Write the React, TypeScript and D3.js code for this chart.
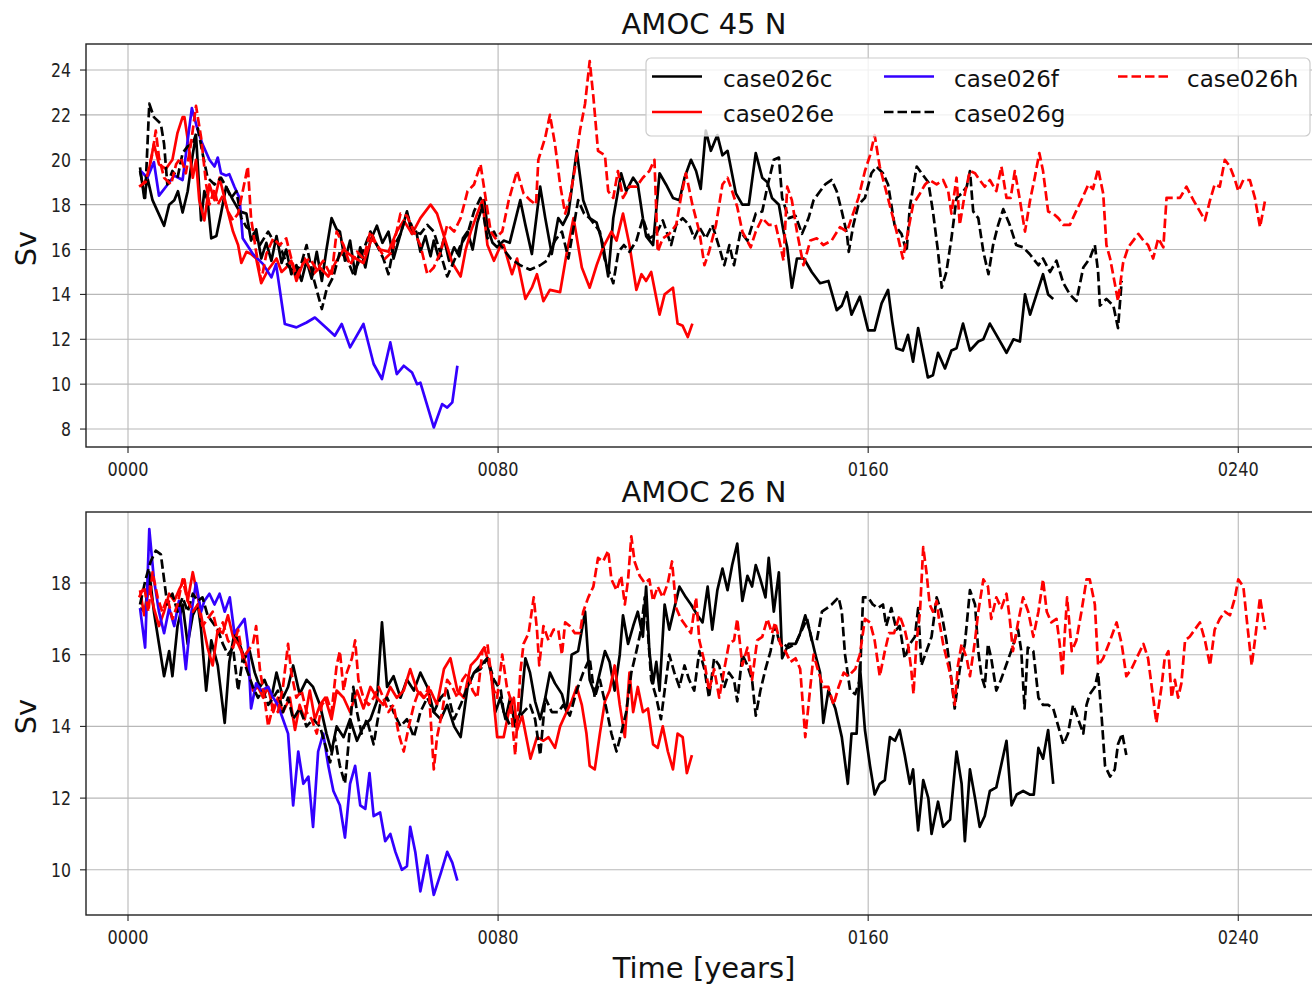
import React from 'react';
import * as d3 from 'd3';

type P = [number, number];

// ---------- axis / label data ----------
const yearTicks = [0, 80, 160, 240];
const yearTickLabels = ['0000', '0080', '0160', '0240'];
const topYTicks = [8, 10, 12, 14, 16, 18, 20, 22, 24];
const botYTicks = [10, 12, 14, 16, 18];
const seriesNames = ['case026c', 'case026e', 'case026f', 'case026g', 'case026h'];
const panelTitles = ['AMOC 45 N', 'AMOC 26 N'];
const xLabel = 'Time [years]';
const yLabel = 'Sv';

// ---------- AMOC 45 N ----------
const c45: P[] = [[2.6,19.66],[3.5,18.3],[4.2,19.2],[5.3,18.2],[6.4,17.7],[7.8,17.06],[8.9,18.0],[10,18.2],[10.8,18.6],[11.8,17.65],[12.9,18.6],[14,20.25],[14.7,21.1],[15.8,17.3],[16.5,18.6],[17.2,18.2],[18,16.5],[19.1,16.6],[20.1,17.6],[21.2,18.8],[22.7,18.2],[24.1,17.7],[25.6,17.6],[26.6,16.4],[27.7,16.9],[28.8,15.6],[29.9,16.3],[31,15.5],[32.1,16.6],[33.2,15.4],[34.2,16.0],[35.3,14.9],[36.4,15.3],[37.5,14.6],[38.6,15.5],[39.7,14.7],[40.8,15.9],[41.9,14.6],[42.9,16.0],[44,17.4],[45.1,16.9],[45.8,16.8],[46.9,15.5],[48,16.4],[49.1,14.9],[50.2,16.1],[51.3,15.2],[52.4,16.4],[53.8,17.06],[55,16.3],[56.3,16.8],[57.4,15.6],[58.5,16.4],[60.3,17.7],[61.4,16.7],[62.3,16.8],[63.2,15.9],[64.3,16.6],[65.4,15.7],[66.1,16.4],[67.2,15.6],[68.3,16.5],[69.4,15.5],[70.5,16.1],[71.6,15.7],[72.4,16.5],[73.4,16.8],[74.5,16.0],[75.5,17.2],[77,18.2],[77.7,17.0],[78.8,16.3],[79.8,16.1],[81.2,16.4],[82.5,16.3],[84.8,18.2],[85.9,17.1],[87.3,15.8],[89.1,18.8],[90.2,17.4],[91.6,15.8],[93,17.4],[94,17.1],[95.2,17.6],[97,20.4],[98.4,18.2],[99.8,17.4],[101.3,17.2],[102.7,16.2],[103.8,14.8],[104.9,17.4],[106.6,19.4],[107.7,18.6],[109.2,19.2],[110.2,18.9],[111.3,17.4],[112,16.6],[113.5,16.2],[114.9,19.4],[116.3,18.9],[117.8,18.3],[119.2,18.2],[120.3,19.2],[121.7,20.0],[122.8,19.5],[123.8,18.7],[124.9,21.3],[126,20.4],[127.4,21.1],[128.5,20.2],[129.6,20.4],[131.4,18.5],[132.8,18.0],[134.2,18.0],[135.7,20.3],[137.1,19.2],[138.2,19.0],[139.2,18.3],[140.7,18.0],[141.7,16.8],[142.5,16.1],[143.5,14.3],[144.6,15.6],[146.1,15.6],[147.8,15.0],[149.6,14.5],[151.4,14.6],[153.2,13.3],[154.3,13.5],[155.4,14.1],[156.4,13.1],[158.2,13.9],[160,12.4],[161.4,12.4],[162.9,13.6],[164.3,14.2],[165.2,12.8],[166.1,11.6],[167.5,11.5],[168.6,12.2],[169.7,11.0],[170.8,12.5],[172.9,10.3],[174,10.4],[175.1,11.4],[176.6,10.7],[178,11.5],[179.1,11.6],[180.5,12.7],[182,11.5],[183.8,11.9],[184.9,12.0],[186.3,12.7],[187.7,12.2],[189.9,11.4],[191.4,12.0],[192.8,11.9],[193.9,14.0],[195,13.1],[196.4,14.0],[197.8,14.9],[198.9,14.0],[200,13.8]];

const e45: P[] = [[2.75,18.8],[4.2,19.2],[5.6,20.7],[6.7,19.8],[8.2,19.6],[9.6,20.0],[10.7,21.2],[11.8,21.9],[12.2,21.9],[13.2,20.5],[14,19.2],[14.7,20.0],[15.4,18.2],[16.5,17.3],[17.6,18.9],[18.7,18.2],[19.8,19.2],[21.2,18.0],[22.7,16.8],[23.8,16.2],[24.5,15.4],[25.6,15.9],[26.6,15.8],[27.7,15.6],[28.8,14.5],[30.3,15.1],[32.1,15.6],[33.2,15.0],[34.2,15.2],[35.3,15.5],[36.4,14.6],[38.2,15.6],[40,14.9],[41.5,15.2],[43.3,14.8],[44.8,15.4],[46.6,16.0],[48.4,15.7],[50.9,15.4],[52.7,16.5],[54.5,16.0],[56.3,15.9],[58.1,16.8],[59.6,17.3],[61.4,16.7],[63.2,17.4],[65.4,18.0],[66.8,17.6],[68.6,16.4],[70.1,15.4],[71.9,14.8],[73,16.0],[74.1,16.8],[75.5,17.6],[76.6,18.2],[77.7,16.2],[79.1,15.5],[80.6,16.2],[81.2,16.2],[83,14.9],[84.1,15.6],[85.9,13.8],[87.3,14.3],[88.4,14.9],[89.8,13.7],[91.2,14.2],[93.4,14.1],[94.8,15.8],[96.3,17.4],[98.1,15.2],[99.8,14.3],[101.3,15.3],[102.7,16.1],[104.5,16.8],[105.6,16.4],[107,17.6],[108.4,16.2],[109.9,14.2],[111,14.9],[112,14.6],[113.1,15.0],[114.9,13.1],[116,14.0],[117.8,14.3],[118.8,12.7],[119.9,12.6],[121,12.1],[122,12.7]];

const f45: P[] = [[2.75,19.5],[4.2,19.2],[5.6,19.9],[6.7,18.4],[8.2,18.8],[10,19.3],[11.8,19.1],[13.8,22.3],[15.1,21.3],[16.1,20.7],[17.6,20.0],[18.7,19.7],[19.4,20.1],[20.1,19.4],[21.2,19.3],[21.9,19.36],[23,18.8],[24.1,18.3],[24.8,16.5],[27,15.8],[29.2,15.35],[31,14.76],[32,15.35],[33.9,12.68],[36.4,12.53],[38.6,12.75],[40.4,12.97],[42.9,12.5],[44.7,12.16],[46.2,12.68],[48,11.64],[50.9,12.68],[53.1,10.9],[54.9,10.23],[56.7,11.86],[58.1,10.45],[59.6,10.82],[61.4,10.52],[62.5,10.0],[63.2,10.07],[66.1,8.07],[67.9,9.11],[69,8.96],[70.1,9.19],[71.2,10.82]];

const g45: P[] = [[2.6,19.5],[3.7,18.3],[4.6,22.5],[5.6,21.9],[7.1,21.6],[7.8,20.7],[8.5,18.9],[9.6,19.5],[10.7,19.2],[11.8,20.3],[12.9,20.6],[14,20.7],[15.1,21.4],[16.1,20.3],[17.2,19.2],[18.7,18.9],[20.1,19.2],[21.2,18.8],[22.3,18.3],[23.4,18.6],[24.5,17.4],[25.6,17.0],[27,16.8],[28.5,16.2],[30.3,16.8],[31.4,16.4],[32.8,16.2],[34.2,15.4],[36.1,14.9],[37.5,15.4],[38.6,16.2],[40,14.8],[41.9,13.35],[42.9,14.2],[44.4,14.8],[45.8,15.9],[47.3,15.6],[48.7,14.9],[50.2,15.6],[52.4,16.8],[53.8,16.2],[55.2,15.6],[56.3,14.9],[57.4,16.1],[58.9,16.7],[60.3,17.6],[61.8,16.8],[63.2,16.7],[64.7,17.1],[66.1,16.8],[67.6,15.8],[69,14.8],[70.5,15.5],[71.9,16.2],[73.4,16.7],[74.8,17.7],[76.2,18.3],[77.7,16.5],[79.1,16.8],[80.5,16.2],[82.7,15.6],[84.8,15.3],[86.9,15.1],[89.1,15.3],[90.5,15.5],[92.3,16.4],[93.8,16.8],[95.2,15.6],[97.3,18.2],[98.6,17.6],[99.8,17.4],[102,16.8],[103,15.6],[104.9,14.5],[106,15.9],[107.2,16.2],[108.4,15.9],[109.9,16.4],[111.3,17.4],[112.7,16.5],[114.2,16.7],[115.6,17.3],[117.4,16.2],[118.5,17.1],[119.9,17.4],[121.3,17.1],[122.4,16.5],[123.5,17.0],[124.9,16.5],[126.3,17.1],[127.8,16.1],[128.9,15.3],[130,16.2],[131,15.3],[132.4,16.8],[133.9,16.4],[135.7,17.6],[137.1,17.7],[138.2,18.8],[139.6,20.0],[140.7,20.1],[141.4,18.3],[142.8,17.4],[144.3,17.5],[145.7,16.7],[147.1,17.4],[148.2,18.2],[149.6,18.6],[150.7,18.9],[152.1,19.1],[153.2,18.6],[154.3,17.7],[155.4,16.7],[155.8,15.9],[156.8,17.1],[157.9,18.0],[159.3,18.3],[160.7,19.4],[161.8,19.7],[163.2,19.4],[164.3,18.9],[165.7,17.1],[167.2,16.7],[168.3,15.9],[169,17.9],[170.5,19.7],[171.9,19.3],[173,19.0],[174,17.7],[175.1,15.9],[175.9,14.3],[176.9,15.0],[178,16.5],[179.1,18.3],[180.2,18.5],[181.3,18.8],[182,19.5],[182.7,17.7],[183.8,17.4],[184.9,15.9],[186,14.9],[187,16.2],[188.1,17.1],[189.2,17.8],[190.6,17.1],[192,16.2],[193.5,16.1],[194.9,15.8],[196.8,15.3],[197.8,15.6],[199.3,15.0],[200.7,15.5],[202.2,14.5],[203.6,14.0],[205,13.7],[206.5,15.2],[207.9,15.6],[209,16.2],[209.7,15.0],[210.1,13.5],[211.5,13.8],[213,13.5],[214,12.5],[214.8,14.6]];

const h45: P[] = [[2.4,18.8],[3.8,19.0],[5.3,20.3],[6,21.3],[6.7,20.1],[7.8,19.2],[9.3,18.9],[10.4,19.8],[11.4,20.1],[12.5,19.4],[13.6,20.7],[14.7,22.4],[15.8,21.0],[16.9,18.9],[17.6,18.0],[18.7,18.7],[19.4,18.0],[20.5,18.4],[21.6,17.7],[22.7,17.3],[23.8,17.6],[24.8,18.6],[25.9,19.7],[26.6,17.4],[27.7,15.9],[28.8,14.6],[29.9,15.8],[31.4,16.5],[32.8,16.2],[34.2,16.5],[35.3,15.6],[36.4,14.8],[37.9,15.4],[39.3,15.6],[40.8,15.1],[42.2,15.5],[44,14.8],[45.1,16.8],[46.6,16.2],[48,15.3],[49.5,15.9],[50.9,15.6],[52.4,16.8],[53.8,16.2],[55.6,15.6],[57.1,15.9],[58.9,17.6],[60.3,17.5],[61.8,16.8],[63.2,16.2],[64.7,14.9],[66.1,15.2],[67.6,15.9],[69,17.1],[70.5,16.8],[71.9,17.4],[73.4,18.6],[74.8,18.9],[76.2,19.8],[77.3,18.3],[78.4,16.8],[79.4,16.5],[80.9,16.8],[82.3,18.2],[84.1,19.5],[85.5,18.5],[86.9,18.2],[88.2,18.0],[88.7,20.0],[90.2,21.0],[91.2,22.0],[92.3,20.7],[93.4,18.9],[94.5,17.6],[95.5,18.3],[96.6,19.6],[97.7,21.3],[98.8,22.5],[99.8,24.4],[100.6,22.8],[101.6,20.4],[103.1,20.2],[103.8,18.6],[104.9,18.3],[105.9,19.5],[107,18.3],[108.4,18.8],[109.9,18.8],[111.3,19.2],[112.7,19.5],[113.8,20.0],[114.5,15.9],[115.6,16.5],[117,16.7],[118.5,17.1],[119.5,18.3],[120.6,19.4],[122,18.0],[123.5,16.8],[124.6,15.3],[125.6,15.9],[127.1,17.1],[128.5,18.9],[129.6,19.2],[130.6,18.6],[131.7,17.9],[132.8,16.8],[134.6,16.1],[135.7,16.8],[137.1,17.4],[138.5,17.1],[140,17.1],[141,16.2],[141.7,15.5],[142.5,18.8],[143.5,18.2],[144.6,16.8],[146,15.3],[147.5,16.4],[148.9,16.5],[150.3,16.2],[152.1,16.4],[153.9,17.0],[155.4,16.8],[156.4,17.4],[157.9,18.3],[159.3,19.5],[160.4,20.2],[161.4,21.1],[162.5,19.7],[164,18.5],[165.4,17.4],[166.5,16.5],[167.5,15.6],[168.6,16.8],[169.7,18.0],[171.2,18.5],[172.3,18.9],[173.3,19.1],[174.8,18.9],[176.2,19.1],[177.3,18.6],[178,17.6],[179.1,19.2],[179.8,17.1],[180.9,18.5],[182,19.5],[183.1,19.4],[184.1,19.1],[185.2,18.8],[186.3,19.1],[187.7,18.6],[188.8,19.7],[189.9,18.3],[190.8,18.3],[191.7,19.5],[192.8,18.2],[193.9,16.8],[195,18.2],[196,19.2],[197,20.3],[197.8,19.5],[198.9,17.7],[200,17.6],[201.1,17.4],[202.2,17.1],[203.6,17.1],[204.7,17.6],[206.1,18.2],[207.6,18.9],[208.6,18.7],[209.7,19.6],[210.8,18.5],[211.5,16.2],[212.3,15.6],[213.3,14.5],[214,13.7],[215.1,15.4],[216.2,16.1],[217.3,16.4],[218.4,16.7],[219.5,16.4],[220.5,16.2],[221.6,15.6],[222.7,16.5],[223.8,16.1],[224.5,18.3],[225.9,18.3],[227.4,18.3],[228.8,18.8],[230.3,18.2],[231.7,17.7],[232.8,17.3],[233.9,18.2],[234.9,18.9],[236,18.8],[237.1,20.0],[238.2,19.7],[239.3,19.1],[240,18.6],[241.1,19.1],[242.5,19.1],[243.6,18.3],[244.7,17.0],[245.8,18.2]];

// ---------- AMOC 26 N ----------
const c26: P[] = [[2.6,17.3],[3.7,17.2],[4.6,18.3],[5.6,17.2],[6.7,16.3],[7.8,15.4],[8.9,16.1],[9.6,15.4],[10.7,16.8],[11.8,17.4],[12.9,16.3],[14,17.1],[15.1,17.4],[15.8,16.7],[16.9,15.0],[18,16.4],[19.4,15.7],[20.9,14.1],[21.9,15.8],[23,16.6],[24.1,16.3],[25.2,15.9],[26.3,16.1],[27.4,15.5],[28.5,15.1],[29.5,15.3],[31,14.8],[32.1,15.5],[33.5,14.8],[34.6,15.1],[35.7,15.7],[37.1,14.9],[38.6,15.3],[40,15.1],[41.5,14.6],[42.9,13.8],[44,13.3],[45.1,14.0],[46.6,13.7],[48,14.2],[49.5,13.6],[50.9,14.0],[52.4,14.2],[53.8,14.7],[54.9,16.9],[56,15.1],[57.4,15.4],[58.9,14.8],[60.3,15.3],[61.8,15.0],[63.2,15.5],[64.7,15.1],[66.1,14.4],[67.6,14.2],[69,14.6],[70.5,14.0],[71.9,13.7],[73.4,15.1],[74.8,15.5],[76.2,15.7],[77.7,15.9],[78.8,15.3],[79.4,14.4],[80.5,14.8],[81.6,14.2],[82.6,14.8],[83.7,14.0],[84.8,14.4],[85.9,15.9],[86.9,15.5],[88,14.7],[89.1,14.2],[90.2,14.8],[91.2,15.5],[92.3,15.2],[93.8,14.9],[94.8,14.4],[95.9,16.0],[97.3,16.1],[98.8,17.2],[99.8,15.3],[100.9,14.9],[102,15.5],[103.1,16.1],[104.1,15.8],[105.2,15.0],[106.3,16.0],[107,17.1],[108.1,16.3],[109.2,16.8],[110.2,17.2],[111.3,16.5],[112,17.9],[112.7,16.1],[113.5,15.2],[114.2,15.8],[114.9,15.0],[116,17.4],[117,16.7],[118.1,17.3],[119.2,17.9],[120.6,17.6],[121.7,17.4],[123.1,17.1],[124.2,16.9],[125.3,17.9],[126.3,16.7],[127.4,17.8],[128.5,18.4],[129.6,17.8],[130.6,18.5],[131.7,19.1],[132.8,17.5],[133.9,18.2],[134.9,17.9],[135.7,18.5],[136.7,18.1],[137.8,17.6],[138.5,18.7],[139.6,17.2],[140.7,18.3],[141.4,15.9],[142.8,16.3],[144.3,16.3],[145.3,16.6],[146.4,17.1],[147.5,16.6],[148.6,16.0],[149.6,15.5],[150.3,14.1],[151.4,15.0],[152.9,14.5],[154.3,13.7],[155.6,12.4],[156.4,13.8],[157.5,13.8],[158.2,15.7],[159.3,13.9],[160.4,12.9],[161.4,12.1],[162.5,12.4],[163.6,12.5],[164.7,13.7],[165.8,13.6],[166.8,13.9],[167.9,13.2],[169,12.4],[169.7,12.8],[170.8,11.1],[171.9,12.5],[173,12.0],[173.7,11.0],[175.1,11.9],[176.2,11.2],[177.7,11.4],[179.1,13.3],[180.2,12.4],[180.9,10.8],[182,12.8],[183.1,12.0],[184.1,11.2],[185.2,11.5],[186.3,12.2],[187.7,12.3],[189.9,13.6],[191,11.8],[192.1,12.1],[193.5,12.2],[194.9,12.1],[195.8,12.1],[196.8,13.4],[197.8,13.1],[198.9,13.9],[200,12.4]];

const e26: P[] = [[2.6,17.8],[3.5,17.1],[4.6,17.9],[5.6,17.3],[6.7,16.8],[7.8,17.2],[8.9,17.7],[10,17.5],[11,17.8],[12.2,18.1],[12.9,17.5],[14,18.3],[15.1,17.6],[16.1,16.9],[17.2,16.2],[18.3,15.7],[19.4,16.7],[20.5,16.6],[21.6,17.1],[22.7,16.5],[23.8,16.3],[24.8,16.0],[25.9,15.6],[27,15.0],[28.1,15.1],[29.2,14.8],[30.3,15.1],[31.4,14.4],[32.4,14.8],[33.5,14.4],[35,14.8],[36.1,13.9],[37.1,14.6],[38.2,14.2],[39.3,15.0],[40.4,14.2],[41.5,14.6],[42.6,14.8],[44,14.2],[45.1,15.0],[46.6,14.8],[48,14.4],[49.5,15.0],[50.9,14.5],[52.4,15.1],[53.8,14.8],[55.2,14.6],[56.7,15.1],[58.1,14.8],[59.6,15.0],[61,15.6],[62.5,15.0],[63.9,14.8],[65.4,15.0],[66.8,14.6],[68.3,15.6],[69.7,15.9],[71.2,15.0],[72.6,14.8],[74.1,15.7],[75.5,15.9],[77,16.2],[78.4,15.6],[79.8,13.7],[81.2,13.7],[82.3,14.4],[83.4,14.8],[84.1,13.9],[85.2,14.3],[87,13.1],[88.4,13.7],[89.8,13.6],[90.9,13.7],[92.3,13.4],[93.4,14.0],[94.8,14.4],[95.9,14.7],[97,15.1],[98.1,14.6],[99.1,13.8],[99.8,12.9],[100.9,12.8],[102,13.8],[103.1,14.7],[104.1,15.0],[105.2,15.7],[106.3,14.6],[107.4,13.7],[108.4,15.5],[109.2,14.4],[110.2,15.1],[111.3,14.4],[112.4,14.5],[113.5,13.5],[114.5,13.4],[115.6,14.0],[116.7,13.3],[117.8,12.8],[118.8,13.8],[119.9,13.7],[120.8,12.7],[121.9,13.2]];

const f26: P[] = [[2.6,17.3],[3.7,16.2],[4.6,19.5],[5.6,18.1],[6.7,17.2],[7.8,16.6],[8.9,17.3],[10,16.8],[11,17.5],[12.5,15.6],[13.6,17.1],[14.7,18.0],[15.8,17.2],[16.5,17.5],[17.6,17.7],[18.7,17.4],[19.8,17.7],[20.9,17.2],[22,17.6],[23,16.6],[24.1,16.8],[25.2,17.0],[25.9,16.3],[26.6,14.5],[27.7,15.2],[28.8,15.0],[30.3,15.1],[31.4,14.8],[32.4,14.6],[33.5,14.2],[34.6,13.8],[35.7,11.8],[36.8,13.3],[37.9,12.4],[39,12.6],[40,11.2],[41.1,13.3],[42.2,13.8],[43.3,12.9],[44.4,12.2],[45.8,11.8],[46.9,10.9],[48,12.4],[49.1,12.9],[50.2,11.8],[51.3,11.7],[52.2,12.7],[53.1,11.5],[54.5,11.6],[55.6,10.8],[56.7,11.0],[57.8,10.5],[59.2,10.0],[60.3,10.1],[61,11.2],[62.1,10.5],[63.2,9.4],[64.7,10.4],[66.1,9.3],[67.6,9.9],[69,10.5],[70.1,10.2],[71.2,9.7]];

const g26: P[] = [[2.6,17.4],[3.8,18.1],[4.9,18.6],[6,18.9],[7.1,18.8],[7.8,18.1],[8.5,17.4],[9.6,17.7],[10.7,17.2],[11.8,17.6],[12.9,17.2],[14,17.7],[15.1,17.5],[16.1,17.6],[17.2,17.1],[18.3,16.9],[19.4,16.7],[20.5,16.3],[21.6,16.0],[22.7,16.2],[23.8,15.0],[24.8,15.9],[25.9,15.5],[27,15.1],[28.1,14.8],[29.2,15.0],[30.3,14.6],[31.4,14.8],[32.4,15.0],[33.5,14.4],[34.6,14.8],[35.7,14.2],[37.1,14.5],[38.6,14.0],[40,14.2],[41.5,14.0],[42.6,13.5],[43.7,13.0],[44.7,13.7],[45.8,12.9],[46.9,12.4],[48,14.0],[48.7,15.1],[49.5,14.4],[50.5,13.8],[51.6,14.2],[53.1,13.5],[54.5,14.6],[56,14.8],[57.4,14.4],[58.9,14.0],[60.3,14.2],[61.8,13.7],[63.2,14.4],[64.7,14.8],[66.1,14.4],[67.6,14.8],[69,15.0],[70.5,14.2],[71.9,14.6],[73.4,15.1],[74.8,15.5],[76.2,15.6],[77.7,15.9],[79.1,15.3],[80.6,15.0],[81.2,14.4],[82.7,14.0],[84.1,14.2],[85.5,14.4],[86.9,14.6],[88,14.2],[89.1,13.2],[90.2,14.8],[91.6,14.4],[93,14.4],[94.1,14.6],[95.5,14.3],[97,15.0],[98.4,15.5],[99.8,15.9],[100.9,14.8],[102,15.3],[103.4,14.5],[104.5,13.8],[105.6,13.3],[106.6,13.8],[107.7,14.4],[108.8,15.5],[109.9,16.1],[110.9,16.7],[111.7,17.6],[112.4,16.6],[113.1,15.3],[114.2,14.8],[115.2,14.2],[116,15.0],[117,16.0],[118.1,15.5],[119.2,15.1],[120.3,15.7],[121.3,15.3],[122.4,15.0],[123.5,16.1],[124.6,15.6],[125.6,14.8],[126.7,15.9],[127.8,15.7],[128.9,15.1],[129.9,15.5],[131,15.3],[131.7,14.7],[132.8,16.0],[133.9,15.7],[134.9,15.3],[135.7,14.3],[136.7,15.0],[137.8,15.6],[138.9,16.1],[139.9,16.8],[140.7,16.4],[141.7,16.3],[142.8,16.2],[144.3,16.3],[145.7,16.7],[146.8,17.0],[147.8,16.4],[148.9,16.4],[150,17.2],[151.1,17.3],[152.1,17.4],[153.6,17.6],[154.3,17.2],[155,16.0],[156.1,15.0],[157.2,14.9],[158.2,15.3],[158.9,17.6],[160,17.6],[161,17.4],[162.1,17.3],[163.2,17.4],[163.9,16.8],[165,17.3],[166.1,16.7],[166.8,16.8],[167.9,15.9],[169,16.3],[170.1,16.5],[170.8,17.3],[171.5,15.7],[172.6,16.1],[173.7,16.5],[174.8,17.6],[175.8,17.2],[176.9,16.4],[178,15.3],[178.7,14.5],[179.8,15.6],[180.9,16.3],[182,17.8],[183.1,17.4],[183.8,16.1],[184.5,15.4],[185.2,15.1],[185.9,16.3],[186.6,15.9],[187.7,15.0],[188.7,15.3],[189.8,15.7],[190.9,16.1],[192.4,16.7],[193.1,16.1],[193.8,14.5],[194.5,16.2],[195.7,16.1],[196.8,14.8],[197.8,14.6],[198.9,14.6],[200,14.5],[201.1,14.0],[202.2,13.5],[203.2,13.8],[204.3,14.6],[205.4,14.2],[206.5,13.8],[207.2,14.6],[207.9,14.9],[209,15.1],[209.7,15.5],[210.5,14.2],[211.2,12.9],[212.3,12.6],[213.3,12.8],[214,13.5],[214.9,13.8],[215.8,13.2]];

const h26: P[] = [[2.4,17.6],[3.5,17.9],[4.4,17.2],[5.3,18.3],[6.4,17.6],[7.4,17.2],[8.5,17.6],[9.6,17.0],[10.7,17.4],[11.8,18.1],[12.9,17.5],[14,17.2],[15.1,17.4],[16.1,16.8],[17.2,17.0],[18.3,17.2],[19.4,16.6],[20.5,16.9],[21.6,16.4],[22.7,16.2],[23.8,16.7],[24.8,15.9],[25.9,16.1],[27,16.3],[27.7,16.8],[28.5,15.6],[29.5,14.8],[30.3,14.0],[31.4,14.6],[32.4,14.4],[33.5,15.1],[34.6,16.3],[35.3,15.5],[36.4,14.8],[37.5,15.0],[38.6,14.4],[39.7,14.2],[40.8,13.8],[41.9,14.6],[43,14.8],[44,14.4],[45.1,15.7],[45.8,16.1],[46.6,15.0],[47.3,15.5],[48.4,15.9],[49.1,16.4],[49.8,15.3],[50.9,14.8],[52,14.6],[53.1,14.8],[54.2,15.1],[55.2,14.8],[56.3,14.4],[57.4,14.6],[58.5,13.8],[59.6,13.3],[60.7,14.0],[61.8,14.6],[62.9,15.0],[64,14.8],[65,15.1],[66.1,12.8],[66.8,13.7],[67.9,14.4],[69,15.3],[70.1,15.1],[71.2,14.8],[72.3,15.3],[73.4,15.5],[74.5,15.0],[75.5,14.8],[76.6,16.1],[77.7,16.3],[78.8,15.1],[79.8,14.8],[80.9,16.0],[81.9,15.1],[82.6,14.8],[83.7,13.2],[84.8,15.5],[85.5,16.3],[86.6,16.6],[87.7,17.6],[88.4,16.7],[88.9,15.7],[89.8,16.8],[90.9,16.4],[92,16.7],[93,16.7],[93.8,16.0],[94.5,16.9],[95.5,16.8],[96.6,16.6],[97.7,16.6],[98.4,17.2],[99.5,17.6],[100.6,17.9],[101.6,18.7],[102.7,18.6],[103.8,18.9],[104.5,18.1],[105.6,17.8],[106.6,18.2],[107.4,17.4],[108.1,18.1],[108.8,19.3],[109.5,18.6],[110.6,18.2],[111.7,18.0],[112.7,18.1],[113.5,17.5],[114.5,17.9],[115.6,17.6],[116.7,18.0],[117.6,18.6],[118.5,17.3],[119.5,17.0],[120.6,16.8],[121.7,16.6],[122.8,17.6],[123.5,16.4],[124.6,15.8],[125.6,15.0],[126.7,15.6],[127.8,14.8],[128.9,15.6],[129.9,16.3],[131,16.4],[131.7,17.0],[132.8,15.7],[133.9,16.2],[134.9,15.3],[136,16.4],[137.1,16.5],[138.2,17.0],[139.2,16.6],[139.9,16.9],[141,16.3],[142.1,16.1],[143.2,15.8],[144.3,15.9],[145.3,15.6],[146.4,13.7],[147.1,14.6],[148.2,16.0],[149.3,15.5],[150.3,15.1],[151.4,15.1],[152.5,14.6],[153.6,15.1],[154.7,15.5],[155.7,15.4],[157.2,15.6],[158.2,16.0],[159.3,17.0],[160.4,16.9],[161.4,16.4],[162.5,15.4],[163.6,16.1],[164.5,16.6],[165.6,16.6],[166.8,17.1],[167.9,16.7],[168.6,16.3],[169.3,15.6],[169.8,14.9],[170.4,16.3],[171.2,17.2],[171.9,19.0],[172.6,18.3],[173.3,17.4],[174,17.2],[174.8,17.5],[175.4,16.9],[176.2,16.3],[177.3,15.7],[178,15.3],[178.7,14.6],[179.4,15.7],[180.2,16.3],[181.3,15.9],[182,15.4],[183.1,16.4],[183.8,17.2],[184.9,18.1],[185.9,17.9],[186.6,17.0],[187.7,17.6],[188.8,17.3],[189.9,17.7],[190.6,17.0],[191.3,16.1],[192.4,16.9],[193.5,17.6],[194.6,17.2],[195.7,16.5],[196.8,17.2],[197.8,18.1],[198.6,17.2],[199.6,16.9],[200.7,17.0],[201.4,16.3],[202,15.4],[202.5,16.6],[203,17.6],[204,16.1],[205,16.4],[206.1,17.2],[207.2,18.1],[207.9,18.1],[209,17.4],[209.7,15.7],[210.8,15.9],[212.3,16.4],[213.7,16.9],[214.8,16.3],[215.8,15.4],[216.9,15.6],[218,15.9],[219.5,16.3],[220.5,15.9],[221.6,14.8],[222.3,14.1],[223.4,15.1],[224.1,15.9],[224.9,16.1],[225.6,14.8],[226.3,15.3],[227,14.8],[227.7,15.2],[228.5,16.4],[229.5,16.5],[230.6,16.7],[231.7,16.9],[232.8,16.4],[233.9,15.7],[234.9,16.7],[236,17.0],[237.1,17.2],[238.2,17.1],[239.3,17.6],[240,18.1],[241.1,17.9],[241.9,16.9],[242.9,15.7],[243.6,16.4],[244.7,17.6],[245.8,16.7]];

// ---------- styling (not data) ----------
const seriesStyles = [
  { color: '#000000', dash: null },
  { color: '#ff0000', dash: null },
  { color: '#3300ff', dash: null },
  { color: '#000000', dash: '9.5,4' },
  { color: '#ff0000', dash: '9.5,4' },
];

const FONT = '"DejaVu Sans", Verdana, sans-serif';
const W = 1312;
const H = 985;
const PLOT_L = 86;
const PLOT_R = 1322;
const X_DOMAIN: [number, number] = [-9.08, 258.1];
const LW = 2.7;

const xScale = d3.scaleLinear().domain(X_DOMAIN).range([PLOT_L, PLOT_R]);

interface PanelProps {
  id: string;
  top: number;
  bottom: number;
  yDomain: [number, number];
  yTicks: number[];
  series: P[][];
  title: string;
  showXLabel: boolean;
  showLegend: boolean;
}

function Panel({ id, top, bottom, yDomain, yTicks, series, title, showXLabel, showLegend }: PanelProps) {
  const y = d3.scaleLinear().domain(yDomain).range([bottom, top]);
  const line = d3
    .line<P>()
    .x((d) => xScale(d[0]))
    .y((d) => y(d[1]));
  const cx = (PLOT_L + PLOT_R) / 2;
  const midY = (top + bottom) / 2;

  const legendCols = [
    { hx: 652, tx: 723 },
    { hx: 884, tx: 954 },
    { hx: 1118, tx: 1187 },
  ];
  const legendRows = [76.5, 112];

  return (
    <g>
      <defs>
        <clipPath id={`clip-${id}`}>
          <rect x={PLOT_L} y={top} width={PLOT_R - PLOT_L} height={bottom - top} />
        </clipPath>
      </defs>
      <rect x={PLOT_L} y={top} width={PLOT_R - PLOT_L} height={bottom - top} fill="#ffffff" />
      {yearTicks.map((t) => (
        <line key={`gx${t}`} x1={xScale(t)} x2={xScale(t)} y1={top} y2={bottom} stroke="#b8b8b8" strokeWidth={1.1} />
      ))}
      {yTicks.map((t) => (
        <line key={`gy${t}`} x1={PLOT_L} x2={PLOT_R} y1={y(t)} y2={y(t)} stroke="#b8b8b8" strokeWidth={1.1} />
      ))}
      <g clipPath={`url(#clip-${id})`}>
        {series.map((s, i) => (
          <path
            key={seriesNames[i]}
            d={line(s) || ''}
            fill="none"
            stroke={seriesStyles[i].color}
            strokeWidth={LW}
            strokeLinejoin="round"
            strokeDasharray={seriesStyles[i].dash || undefined}
          />
        ))}
      </g>
      <rect x={PLOT_L} y={top} width={PLOT_R - PLOT_L} height={bottom - top} fill="none" stroke="#222" strokeWidth={1.4} />
      {yearTicks.map((t, i) => (
        <g key={`tx${t}`}>
          <line x1={xScale(t)} x2={xScale(t)} y1={bottom} y2={bottom + 6} stroke="#222" strokeWidth={1.1} />
          <text
            x={xScale(t)}
            y={bottom + 29}
            textAnchor="middle"
            fontFamily={FONT}
            fontSize={19}
            fill="#222"
            textLength={41}
            lengthAdjust="spacingAndGlyphs"
          >
            {yearTickLabels[i]}
          </text>
        </g>
      ))}
      {yTicks.map((t) => {
        const label = String(t);
        return (
          <g key={`ty${t}`}>
            <line x1={PLOT_L - 6} x2={PLOT_L} y1={y(t)} y2={y(t)} stroke="#222" strokeWidth={1.1} />
            <text
              x={71}
              y={y(t) + 7}
              textAnchor="end"
              fontFamily={FONT}
              fontSize={19}
              fill="#222"
              textLength={10 * label.length}
              lengthAdjust="spacingAndGlyphs"
            >
              {label}
            </text>
          </g>
        );
      })}
      <text x={cx} y={top - 10} textAnchor="middle" fontFamily={FONT} fontSize={29} fill="#111">
        {title}
      </text>
      <text
        x={36}
        y={midY + 3}
        transform={`rotate(-90, 36, ${midY + 3})`}
        textAnchor="middle"
        fontFamily={FONT}
        fontSize={29}
        fill="#111"
      >
        {yLabel}
      </text>
      {showXLabel && (
        <text x={cx} y={bottom + 63} textAnchor="middle" fontFamily={FONT} fontSize={29} fill="#111">
          {xLabel}
        </text>
      )}
      {showLegend && (
        <g>
          <rect x={646} y={58} width={664} height={78} rx={5} ry={5} fill="#ffffff" fillOpacity={0.8} stroke="#cccccc" strokeWidth={1.2} />
          {seriesNames.map((name, i) => {
            const col = legendCols[Math.floor(i / 2)];
            const row = legendRows[i % 2];
            return (
              <g key={`lg${name}`}>
                <line
                  x1={col.hx}
                  x2={col.hx + 50}
                  y1={row}
                  y2={row}
                  stroke={seriesStyles[i].color}
                  strokeWidth={LW}
                  strokeDasharray={seriesStyles[i].dash || undefined}
                />
                <text x={col.tx} y={row + 10} fontFamily={FONT} fontSize={23} fill="#111">
                  {name}
                </text>
              </g>
            );
          })}
        </g>
      )}
    </g>
  );
}

export default function App() {
  return (
    <svg
      width={W}
      height={H}
      viewBox={`0 0 ${W} ${H}`}
      style={{ position: 'absolute', left: 0, top: 0, background: '#ffffff', display: 'block' }}
    >
      <rect x={0} y={0} width={W} height={H} fill="#ffffff" />
      <Panel
        id="p45"
        top={44}
        bottom={447}
        yDomain={[7.2, 25.16]}
        yTicks={topYTicks}
        series={[c45, e45, f45, g45, h45]}
        title={panelTitles[0]}
        showXLabel={false}
        showLegend={true}
      />
      <Panel
        id="p26"
        top={512}
        bottom={915}
        yDomain={[8.74, 19.98]}
        yTicks={botYTicks}
        series={[c26, e26, f26, g26, h26]}
        title={panelTitles[1]}
        showXLabel={true}
        showLegend={false}
      />
    </svg>
  );
}
